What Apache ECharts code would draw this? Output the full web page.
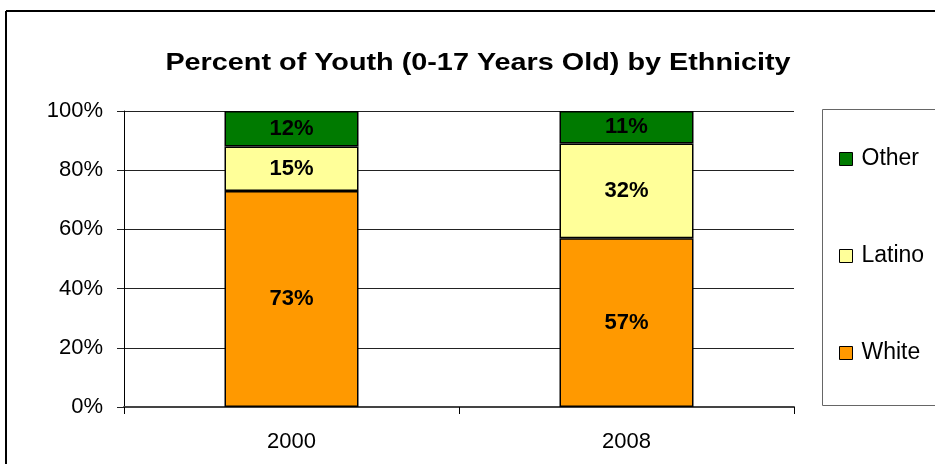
<!DOCTYPE html>
<html>
<head>
<meta charset="utf-8">
<script src="https://cdn.jsdelivr.net/npm/echarts@6/dist/echarts.min.js"></script>
<style>
  html, body { margin: 0; padding: 0; background: #fff; }
  #chart { width: 935px; height: 464px; }
</style>
</head>
<body>
<div id="chart"></div>
<script>
// Share of youth by ethnicity, in percent
const years = ['2000', '2008'];
const white = [73, 57];
const latino = [15, 32];
const other = [12, 11];
const yTicks = { min: 0, max: 100, step: 20 };
const titleText = 'Percent of Youth (0-17 Years Old) by Ethnicity';

const FONT = '"Liberation Sans", Arial, sans-serif';

const chart = echarts.init(document.getElementById('chart'), null, { renderer: 'canvas' });

const labelStyle = {
  show: true,
  position: 'inside',
  formatter: p => p.value + '%',
  color: '#000',
  fontFamily: FONT,
  fontWeight: 'bold',
  fontSize: 22
};

function barSeries(name, data, color) {
  return {
    name: name,
    type: 'bar',
    stack: 'total',
    data: data,
    barWidth: 134,
    itemStyle: { color: color, borderColor: '#000', borderWidth: 1.5 },
    label: labelStyle,
    emphasis: { disabled: true }
  };
}

chart.setOption({
  animation: false,
  backgroundColor: '#fff',
  textStyle: { fontFamily: FONT },
  grid: { left: 124, right: 141, top: 111, bottom: 57 },
  legend: {
    orient: 'vertical',
    left: 834,
    top: 142,
    itemGap: 73,
    itemWidth: 13,
    itemHeight: 13,
    icon: 'rect',
    data: ['Other', 'Latino', 'White'],
    selectedMode: false,
    itemStyle: { borderColor: '#000', borderWidth: 1 },
    textStyle: { fontFamily: FONT, fontSize: 23, color: '#000', lineHeight: 24, padding: [0, 0, 0, 4] }
  },
  xAxis: {
    type: 'category',
    data: years,
    axisLine: { lineStyle: { color: '#444', width: 2 } },
    axisTick: { show: true, length: 7, lineStyle: { color: '#000' } },
    axisLabel: { color: '#000', fontFamily: FONT, fontSize: 22, margin: 24 }
  },
  yAxis: {
    type: 'value',
    min: yTicks.min,
    max: yTicks.max,
    interval: yTicks.step,
    axisLine: { show: true, lineStyle: { color: '#000', width: 1 } },
    axisTick: { show: true, length: 7, lineStyle: { color: '#222' } },
    axisLabel: { color: '#000', fontFamily: FONT, fontSize: 22, margin: 21, formatter: '{value}%' },
    splitLine: { show: true, lineStyle: { color: '#222', width: 1 } }
  },
  graphic: [
    // outer frame
    { type: 'line', shape: { x1: 6, y1: 11, x2: 935, y2: 11 }, style: { stroke: '#000', lineWidth: 2 } },
    { type: 'line', shape: { x1: 6, y1: 11, x2: 6, y2: 464 }, style: { stroke: '#000', lineWidth: 2 } },
    // legend box
    { type: 'rect', shape: { x: 822.5, y: 109.5, width: 200, height: 296 }, style: { fill: 'none', stroke: '#666', lineWidth: 1 }, z: 0 },
    // chart title, set a little wide
    {
      type: 'text',
      x: 478,
      y: 63,
      scaleX: 1.2,
      style: {
        text: titleText,
        fontFamily: FONT,
        fontWeight: 'bold',
        fontSize: 24,
        fill: '#000',
        textAlign: 'center',
        textVerticalAlign: 'middle'
      }
    }
  ],
  series: [
    barSeries('White', white, '#FF9900'),
    barSeries('Latino', latino, '#FFFF99'),
    barSeries('Other', other, '#007A00')
  ]
});
</script>
</body>
</html>
